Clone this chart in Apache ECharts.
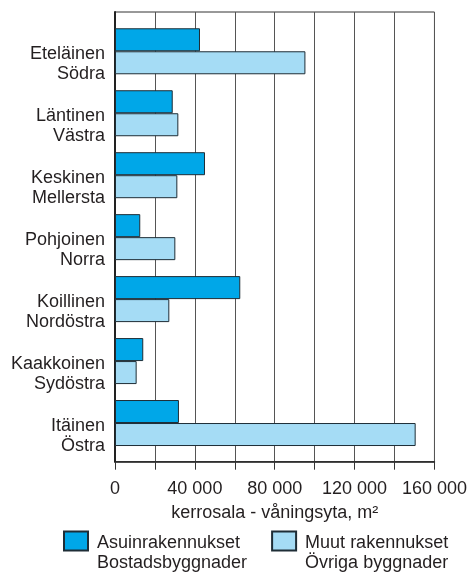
<!DOCTYPE html>
<html><head><meta charset="utf-8">
<script src="https://cdn.jsdelivr.net/npm/echarts@6/dist/echarts.min.js"></script>
<style>html,body{margin:0;padding:0;background:#fff}#c{width:470px;height:573px}</style>
</head><body><div id="c"></div>
<script>
const categories = ['Eteläinen\nSödra','Läntinen\nVästra','Keskinen\nMellersta','Pohjoinen\nNorra','Koillinen\nNordöstra','Kaakkoinen\nSydöstra','Itäinen\nÖstra'];
const residential = [42400, 28800, 44900, 12600, 62500, 14100, 31900];
const other = [95000, 31600, 31100, 30100, 27100, 10800, 150000];
const seriesNames = ['Asuinrakennukset\nBostadsbyggnader', 'Muut rakennukset\nÖvriga byggnader'];
const axisTitle = 'kerrosala - våningsyta, m²';

const FONT = 'Liberation Sans, Arial, sans-serif';
const TXT = '#231f20';
const fmt = v => (v % 40000 === 0) ? String(v).replace(/\B(?=(\d{3})+(?!\d))/g, ' ') : '';
const richLines = s => '{e| }\n' + s.split('\n').map(l => '{l|' + l + '}').join('\n');

const chart = echarts.init(document.getElementById('c'));
chart.setOption({
  animation: false,
  textStyle: {fontFamily: FONT},
  grid: [
    {left: 115, right: 34.3, top: 12, bottom: 111.3, show: true, borderColor: '#333', borderWidth: 1},
    {left: 115, right: 34.3, top: 20.3, bottom: 119}
  ],
  xAxis: [
    {gridIndex: 0, type: 'value', min: 0, max: 160000, interval: 20000,
     axisLine: {show: true, lineStyle: {color: '#222', width: 1.5}},
     axisTick: {show: true, inside: false, length: 8, lineStyle: {color: '#333'}},
     splitLine: {show: true, lineStyle: {color: '#555', width: 1}},
     axisLabel: {formatter: fmt, fontSize: 18, color: TXT, margin: 18, fontFamily: FONT, showMaxLabel: true},
     name: axisTitle, nameLocation: 'middle', nameGap: 42,
     nameTextStyle: {fontSize: 18, color: TXT, fontFamily: FONT}},
    {gridIndex: 1, type: 'value', min: 0, max: 160000, show: false}
  ],
  yAxis: [
    {gridIndex: 0, type: 'value', min: 0, max: 1,
     axisLine: {show: true, onZero: false, lineStyle: {color: '#222', width: 2}},
     axisTick: {show: false}, axisLabel: {show: false}, splitLine: {show: false}},
    {gridIndex: 1, type: 'category', data: categories, inverse: true,
     axisLine: {show: false}, axisTick: {show: false}, splitLine: {show: false},
     axisLabel: {fontSize: 18, color: TXT, margin: 10, align: 'right', fontFamily: FONT,
       formatter: v => richLines(v),
       rich: {e: {fontSize: 10, lineHeight: 26, align: 'right'},
              l: {fontSize: 18, lineHeight: 20, color: TXT, fontFamily: FONT, align: 'right'}}}}
  ],
  legend: {
    data: seriesNames, left: 58, top: 511, itemWidth: 24, itemHeight: 19, itemGap: 24,
    icon: 'rect',
    formatter: n => richLines(n),
    textStyle: {fontSize: 18, color: TXT, fontFamily: FONT,
      rich: {e: {fontSize: 10, lineHeight: 24},
             l: {fontSize: 18, lineHeight: 20, color: TXT, fontFamily: FONT, padding: [0, 0, 0, 4]}}}
  },
  series: [
    {name: seriesNames[0], type: 'bar', xAxisIndex: 1, yAxisIndex: 1, data: residential,
     barWidth: 23, barGap: '0%',
     itemStyle: {color: '#00a7e8', borderColor: '#1e2d36', borderWidth: 1}},
    {name: seriesNames[1], type: 'bar', xAxisIndex: 1, yAxisIndex: 1, data: other,
     barWidth: 23, barGap: '0%',
     itemStyle: {color: '#a5dcf5', borderColor: '#1e2d36', borderWidth: 1}}
  ]
});
</script></body></html>
